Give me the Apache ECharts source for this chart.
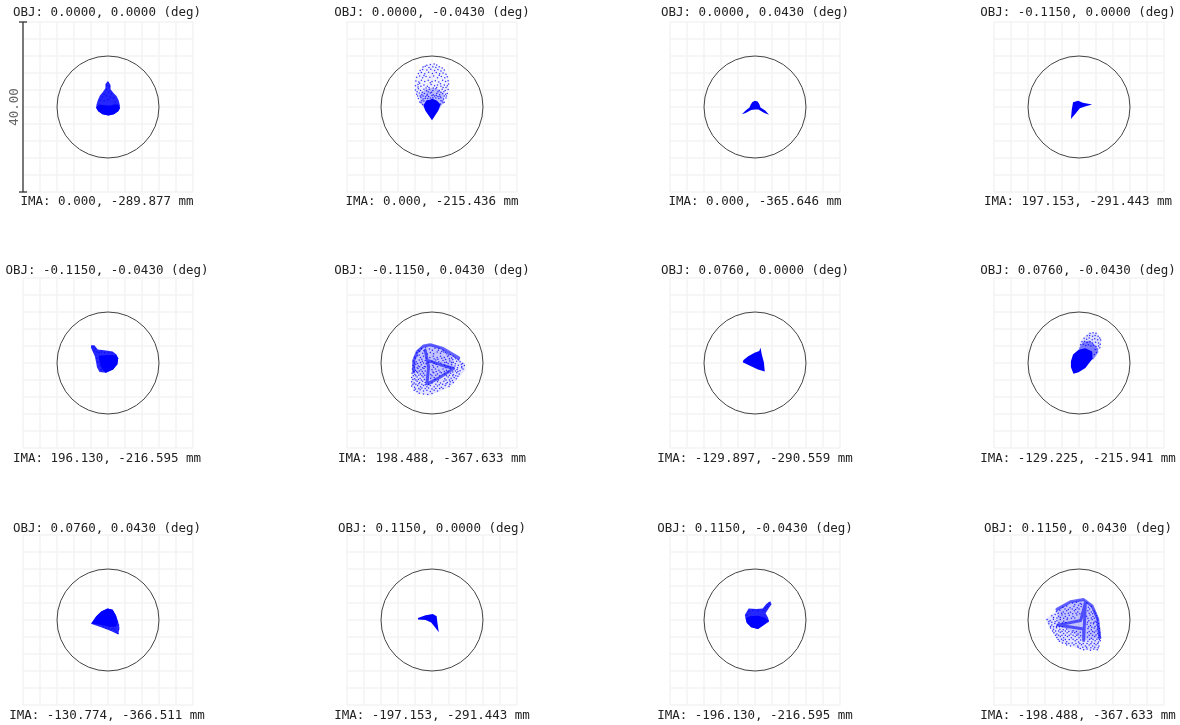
<!DOCTYPE html>
<html><head><meta charset="utf-8">
<style>html,body{margin:0;padding:0;background:#fff}#c{width:1180px;height:725px}</style>
<script src="https://cdn.jsdelivr.net/npm/echarts@6/dist/echarts.min.js"></script>
</head><body><div id="c"></div>
<script>
const objLabels=["OBJ: 0.0000, 0.0000 (deg)","OBJ: 0.0000, -0.0430 (deg)","OBJ: 0.0000, 0.0430 (deg)","OBJ: -0.1150, 0.0000 (deg)",
"OBJ: -0.1150, -0.0430 (deg)","OBJ: -0.1150, 0.0430 (deg)","OBJ: 0.0760, 0.0000 (deg)","OBJ: 0.0760, -0.0430 (deg)",
"OBJ: 0.0760, 0.0430 (deg)","OBJ: 0.1150, 0.0000 (deg)","OBJ: 0.1150, -0.0430 (deg)","OBJ: 0.1150, 0.0430 (deg)"];
const imaLabels=["IMA: 0.000, -289.877 mm","IMA: 0.000, -215.436 mm","IMA: 0.000, -365.646 mm","IMA: 197.153, -291.443 mm",
"IMA: 196.130, -216.595 mm","IMA: 198.488, -367.633 mm","IMA: -129.897, -290.559 mm","IMA: -129.225, -215.941 mm",
"IMA: -130.774, -366.511 mm","IMA: -197.153, -291.443 mm","IMA: -196.130, -216.595 mm","IMA: -198.488, -367.633 mm"];
const scaleLabel="40.00";
const airyRadius=12;
const axisMin=-20, axisMax=20, axisStep=4;

// spot outlines in µm: sparse envelope (wash), middle density (mid), dense part (core)
const wash1=[[0,6.1],[0.6,5.2],[0.6,4.2],[1.4,3.2],[2,2.6],[2.5,1.6],[2.8,0.4],[2.8,-0.3],[2.4,-1],[1.4,-1.7],[0.1,-2],[-1.3,-1.7],[-2.3,-1],[-2.8,-0.2],[-2.7,0.6],[-2.4,1.6],[-1.9,2.7],[-1.3,3.4],[-0.6,4.4],[-0.6,5.4]];
const core1=[[-2.8,-0.2],[-2.2,0.6],[-1.3,0.5],[0.4,0.3],[1.5,0.6],[2.4,0.6],[2.8,-0.3],[2.4,-1],[1.4,-1.7],[0.1,-2],[-1.3,-1.7],[-2.3,-1]];
const wash2=[[0,10.1],[-2.4,9.5],[-3.9,6.4],[-3.9,3.6],[-2.7,0.9],[0,-2.7],[2.7,0.9],[3.9,4],[3.9,6.7],[2.4,9.5]];
const mid2=[[-2.8,1.2],[-2.9,3],[-1.5,4.2],[0,4.5],[1.5,4.2],[2.9,3],[2.8,1.2],[1.7,-0.5],[-1.7,-0.5]];
const core2=[[0,-3.1],[-1.6,-0.8],[-2,0.4],[-1.3,1.6],[-0.4,1.7],[0,2],[1.2,1.5],[2,0.6],[1.5,-0.8]];
const core3=[[-3.1,-1.7],[-2.2,-0.8],[-1.3,-0.1],[-1,0.6],[-0.6,1.2],[0,1.5],[0.6,1.3],[1,0.7],[1.3,-0.1],[2.4,-0.8],[3.3,-1.8],[2.2,-1.4],[0.8,-0.6],[0,-0.6],[-0.9,-0.7],[-2.2,-1.4]];
const core4=[[-1.9,-2.8],[-1.7,-0.6],[-1.4,1.1],[-0.2,1.5],[0.9,1],[3.1,0.6],[1.6,0.2],[0.2,-0.3],[-0.8,-1.5]];
const wash5=[[-4,4.2],[-3.2,4.2],[-2.4,3.2],[-0.9,3],[1.1,2.7],[2,2],[2.4,1.1],[2.2,-0.3],[1.2,-1.5],[-0.5,-2.3],[-2,-2.1],[-2.6,-1],[-2.8,0.2],[-3.1,1.6],[-4,3.6]];
const core5=[[-2.2,1.7],[0.3,1.9],[1.9,1.8],[2.4,1.1],[2.2,-0.3],[1.2,-1.5],[-0.5,-2.3],[-1.4,-1.4],[-1.9,0]];
const wash6=[[-0.8,4.5],[-2.7,3.8],[-4.2,1.8],[-4.7,-1.3],[-4.9,-5.6],[-3.5,-7.2],[-0.8,-7.6],[1.2,-7],[4.7,-5.3],[7.8,-1.7],[7.8,-0.2],[6.3,1],[3.1,3],[0.8,4.3]];
const mid6=[[-4.3,0.6],[-3.5,2.6],[-2,4],[-0.4,4.3],[2.4,3.5],[5,1.5],[5.1,-1.3],[2,-3.3],[-1,-4.9],[-2.5,-3],[-4.3,-2]];
const core7=[[1.3,3.6],[1.6,2],[2.1,0.1],[2.3,-2],[0.7,-1.5],[-1.3,-0.6],[-2.9,0.2],[-2.7,0.7],[-1.6,1.6],[-0.1,2.4],[1,2.8]];
const wash8=[[2.3,7.1],[4.2,7.1],[5.3,5.5],[5,3.5],[3.1,0.8],[-0.1,3.1],[0.3,5.1]];
const mid8=[[0,3.5],[1,5],[2.5,5.3],[4,4],[4.6,2.6],[3.4,0.8],[1,1]];
const core8=[[-1.3,-2.5],[-1.9,-1],[-1.9,0.4],[-1.4,2],[-0.1,3.1],[1.5,3.5],[3.1,2.7],[3.2,1],[2.4,0],[1.5,-1.2],[-0.1,-2.2]];
const wash9=[[-0.1,2.7],[1.1,2.4],[1.9,1],[2.4,-0.4],[2.7,-1.8],[2.4,-3.4],[0.7,-2.6],[-1.3,-1.8],[-4,-0.9],[-2.8,0.8],[-1.6,2]];
const core9=[[-0.1,2.7],[1.1,2.4],[1.9,1],[2.3,-0.6],[1.9,-1.6],[0.2,-1.6],[-1.5,-1.2],[-3.9,-0.8],[-2.8,0.8],[-1.6,2]];
const core10=[[-3.3,0.5],[-1.5,1.1],[0.2,1.4],[1.1,0.9],[1.3,-0.8],[1.6,-2.9],[0.8,-1.8],[-0.2,-0.6],[-1.5,0],[-3.3,0.1]];
const wash11=[[3.6,4.4],[3.9,3.7],[3.2,2.7],[2.5,1.6],[3.1,0.5],[3.3,-0.4],[1.9,-1.3],[0.7,-2.1],[-0.9,-1.7],[-2,-0.6],[-2.4,1.2],[-1.5,2.7],[0.3,2.6],[1.8,2.7],[2.7,3.8]];
const core11=[[-2.2,0.4],[-1.2,0.9],[0.7,1],[2.2,0.6],[3.3,-0.1],[1.9,-1.3],[0.7,-2.1],[-0.9,-1.7],[-1.9,-0.7]];
const wash12=[[1.1,4.8],[-1.3,4.3],[-4.4,2.9],[-7.9,0.2],[-6.7,-2.2],[-4.8,-5.1],[-2,-6.1],[1.1,-7.1],[4.6,-7.1],[5,-3.4],[4.4,0.2],[3.1,3.3]];
const mid12=[[-5.2,2.5],[-2,4.3],[1.1,4.8],[3.1,3.3],[4.4,0.2],[4.9,-4.2],[1.1,-4.8],[-1.5,-3],[-5,-1.2]];

// caustic ridges in µm, null breaks the line
const ridge6=[[-4.3,-2.1],[-4.3,0.6],[-3.5,2.6],[-2,4],[-0.4,4.3],[2.4,3.5],[6.3,1.2],null,[-1.6,3],[-0.8,-0.9],[-1.2,-4.9],null,[-1,0.6],[2,-0.4],[5.1,-1.3],null,[-1,-4.9],[2,-3.3],[5.1,-1.3]];
const ridge12=[[-5.2,2.5],[-2,4.3],[1.1,4.8],[3.1,3.3],[4.4,0.2],[4.9,-4.2],null,[1.5,4.1],[0.4,-0.1],[-5,-1.2],null,[-5,-1.2],[1.1,-2.1],[1.1,-4.8],null,[1.5,4.1],[1.1,-4.8]];

// individual rays read from the sparse parts of the spots, in µm
const dots1=[[0,5.7],[-0.3,5.1],[0.3,4.8],[-0.4,4.2],[0.2,3.6],[-0.9,3],[0.8,3.1],[-1.3,2.4],[-0.4,2.6],[0.5,2.3],[1.3,2.1],[-1.8,1.6],[-0.9,1.5],[0,1.7],[1.7,1.2]];
const dots2=[[-0.4,10],[0.5,10.1],[1.1,9.9],[-1.2,9.8],[-2.1,9.4],[-1.6,9.6],[-0.7,9.3],[0.2,9.5],[0.9,9.3],[1.7,9.5],[2.4,9.2],[-2.8,8.6],[-2.2,8.8],[-1.2,8.7],[-0.3,8.9],[0.6,8.6],[1.4,8.8],[2.1,8.5],[2.9,8.7],[-3.2,7.9],[-2.5,8.1],[-1.7,7.8],[-0.8,8.2],[0.1,7.9],[1,8.1],[1.8,7.8],[2.6,8],[3.3,7.7],[-3.6,7],[-2.9,7.3],[-2.2,6.9],[-1.4,7.2],[-0.5,7],[0.4,7.3],[1.3,6.9],[2.2,7.2],[3,6.9],[3.6,7.1],[-3.8,6.1],[-3.1,5.9],[-2.5,6.3],[-1.7,6],[-0.9,6.3],[0,6],[0.8,6.2],[1.6,5.9],[2.5,6.3],[3.2,6],[3.8,6.2],[-3.9,5],[-3.3,5.3],[-2.6,4.9],[-1.9,5.2],[-1.1,4.9],[-0.2,5.3],[0.6,5],[1.3,5.2],[2.1,4.9],[2.9,5.2],[3.6,5],[3.9,5.4],[-3.9,4],[-3.2,4.3],[-2.7,3.9],[-1.9,4.2],[-1.3,3.8],[-0.6,4.2],[0.2,3.9],[0.9,4.3],[1.7,3.9],[2.4,4.2],[3.1,3.9],[3.8,4.1],[-3.6,3],[-3,3.3],[-2.4,2.9],[-1.8,3.2],[-1.1,3],[-0.4,3.3],[0.3,2.9],[1.1,3.2],[1.8,2.9],[2.5,3.2],[3.2,3],[3.6,3.2],[-3.2,2],[-2.6,2.3],[-2.1,1.9],[2.1,2.2],[2.7,1.9],[3.3,2.1],[-2.9,1.2],[-2.4,1.5],[2.4,1.4],[2.9,1.1],[-0.8,2.5],[0.6,2.6],[-1.5,2.4],[1.4,2.5],[-1.9,7.4],[1.7,7.5],[-2.9,5.6],[-0.4,5.7],[2,5.5],[-1.4,4.5],[1.1,4.6],[3.3,4.6],[-3.5,3.6],[-0.9,3.6],[2.1,3.5],[-2.6,1],[-1.9,1.4],[-1.6,2],[-1,2],[-0.4,2.1],[0.2,2.2],[0.9,2.1],[1.6,2],[2.1,1.5],[2.6,1],[-2.2,0.6],[2,0.7],[-3.4,2.6],[-2.8,2.6],[-2.1,2.6],[-1.2,2.7],[0,2.7],[1,2.7],[1.9,2.5],[2.9,2.6],[3.4,2.6],[-3.3,4.7],[-0.7,4.6],[0.3,4.5],[2.6,4.6],[-2.3,3.5],[-0.1,3.5],[1.4,3.6],[2.8,3.6]];
const dots5=[[-3.5,3.8],[-3,3.4],[-3.3,2.9],[-2.6,2.6],[-2.1,2.4],[-1.5,2.6],[-0.8,2.5],[0.2,2.4],[0.9,2.3],[-2.6,1.1],[-2.4,0.2],[-1.9,-0.6],[-1.6,-1.5]];
const dots6=[[-2.5,3.4],[-1.5,3.6],[-0.6,3.3],[0.7,3.5],[1.6,3.4],[2.6,3],[-3.6,2.4],[-2.9,2.7],[-2.2,2.3],[-0.4,2.5],[0.4,2.2],[1.2,2.6],[2,2.3],[2.8,2.6],[3.5,2.2],[4.3,2],[-4.1,1.4],[-3.4,1.7],[-2.7,1.3],[-2,1.6],[-0.5,1.3],[0.3,1.6],[1.2,1.3],[2,1.6],[2.9,1.3],[3.7,1.6],[4.6,1.2],[5.4,1.3],[6.1,0.9],[-4.4,0.5],[-3.7,0.3],[-3,0.7],[-2.3,0.4],[-1.6,0.6],[0,0.4],[0.9,0.7],[1.6,0.3],[2.6,0.6],[3.4,0.2],[4.2,0.5],[5,0.2],[5.8,0.4],[6.6,0.3],[7.2,-0.1],[-4.5,-0.6],[-3.8,-0.3],[-3.2,-0.7],[-2.5,-0.4],[-1.8,-0.8],[0.2,-0.6],[1,-0.3],[3,-0.5],[3.8,-0.8],[4.6,-0.4],[5.4,-0.7],[6.2,-0.5],[7,-0.8],[7.6,-0.6],[-4.6,-1.4],[-3.9,-1.7],[-3.3,-1.3],[-2.6,-1.6],[-1.9,-1.3],[0,-1.6],[0.8,-1.4],[1.6,-1.7],[2.6,-1.4],[3.4,-1.7],[5.9,-1.5],[6.6,-1.8],[7.3,-1.4],[-4.7,-2.4],[-4,-2.7],[-3.4,-2.3],[-2.7,-2.6],[-2,-2.4],[-0.3,-2.7],[0.4,-2.3],[1.3,-2.6],[2.2,-2.3],[3,-2.6],[4.4,-2.4],[5,-2.7],[5.8,-2.3],[6.4,-2.6],[-4.8,-3.4],[-4.1,-3.7],[-3.5,-3.3],[-2.8,-3.6],[-2.1,-3.3],[-0.3,-3.6],[0.5,-3.4],[3,-3.7],[3.8,-3.3],[4.5,-3.6],[5.2,-3.4],[5.7,-3.7],[-4.8,-4.4],[-4.2,-4.7],[-3.5,-4.3],[-2.9,-4.6],[-2.2,-4.3],[-1.6,-4.6],[0,-4.7],[1.3,-4.4],[2,-4.7],[2.8,-4.3],[3.6,-4.6],[4.3,-4.4],[5,-4.6],[-4.8,-5.4],[-4.1,-5.7],[-3.4,-5.3],[-2.7,-5.6],[-2,-5.3],[-1.2,-5.6],[-0.4,-5.3],[0.5,-5.6],[1.3,-5.4],[2.2,-5.7],[3.1,-5.3],[4,-5.5],[-4.2,-6.4],[-3.5,-6.7],[-2.8,-6.3],[-2,-6.6],[-1.2,-6.4],[-0.4,-6.7],[0.5,-6.4],[1.3,-6.6],[-3,-7.1],[-2,-7.3],[-1,-7.4],[0,-7.2],
[-3.2,3],[-1.9,2.9],[-1.1,2.1],[0.1,3],[1.5,3],[2.3,2.7],[3.2,2.5],[3.9,1.9],[5,1.6],[5.6,1],[-3.9,1.1],[-3,1.9],[-2.4,0.9],[-1.4,1.2],[-0.9,0.2],[0.5,1],[1.4,0.9],[2.3,1.1],[3.2,0.8],[4.1,1],[4.9,0.8],[6.3,0.7],[-4.1,0],[-3.4,-0.1],[-2.7,0.1],[-2,0],[-1.4,-0.2],[0.5,0],[2.1,0],[3,0.1],[3.8,-0.1],[4.6,0.1],[5.5,-0.2],[6.9,-0.3],[-4.2,-1],[-3.5,-1.1],[-2.9,-0.9],[-2.2,-1.1],[-1.5,-0.9],[0.4,-1],[1.3,-0.9],[3.3,-1.1],[4.3,-1.2],[5,-1.1],[6,-1.1],[7,-1.1],[-4.3,-2],[-3.6,-2],[-3,-1.9],[-2.3,-2],[-1.6,-1.9],[0.2,-2.1],[1,-2],[1.9,-2.1],[2.9,-2],[3.8,-2.1],[4.9,-2.1],[5.5,-1.9],[6.1,-2],[-4.4,-3],[-3.8,-3],[-3.1,-2.9],[-2.4,-3],[-1.7,-2.9],[0,-3],[0.9,-2.9],[1.8,-3],[3.4,-3],[4.1,-2.9],[4.9,-3],[5.6,-3],[6.1,-3.1],[-4.5,-3.9],[-3.8,-4],[-3.2,-3.9],[-2.5,-4],[-1.8,-3.9],[0.7,-3.9],[1.5,-4],[3.3,-4],[4.1,-4],[4.8,-4.1],[-4.5,-5],[-3.8,-5],[-3.1,-4.9],[-2.4,-5],[-1.6,-5.1],[-0.8,-5],[0.9,-5],[1.7,-5.1],[2.5,-5],[3.3,-4.9],[4.2,-5],[-3.9,-6.1],[-3.1,-6],[-2.4,-5.9],[-1.6,-6],[-0.8,-5.9],[0,-6.1],[0.9,-6],[1.8,-6],[2.6,-6]];
const dots8=[[2.6,7],[3.3,7.1],[4,7],[1.9,6.4],[2.5,6.5],[3.2,6.3],[3.8,6.5],[4.5,6.3],[4.9,5.9],[1.2,5.8],[1.8,5.6],[2.4,5.9],[3.1,5.5],[3.7,5.7],[4.4,5.5],[5.1,5.4],[0.7,5],[1.3,5.1],[1.9,4.8],[2.6,5],[3.2,4.7],[3.9,4.9],[4.6,4.7],[5,4.4],[0.4,4.3],[1,4.4],[1.6,4.1],[2.2,4.3],[2.8,4],[3.4,4.2],[4,3.9],[4.6,4],[4.9,3.6],[3.8,3.2],[4.3,3.3],[4.1,2.5],[3.6,2]];
const dots9=[[1.6,-2.3],[2,-2.8],[2.4,-3.2],[2.5,-2.2],[1.2,-2],[0.7,-2.3],[0.2,-1.9],[-0.5,-1.9],[-1.1,-1.6],[2.5,-1.2]];
const dots11=[[3.3,4],[3,3.2],[2.5,2.9],[2,2.3],[0.7,2.2],[-0.5,2.3],[-1.4,2],[-1.9,1.2]];
const dots12=[[-1.5,4],[-0.6,4.2],[0.3,3.9],[1.9,4],[-3.8,3],[-2.9,3.3],[-2.1,2.9],[-1.2,3.2],[-0.4,2.9],[0.5,3.2],[2.2,3],[2.9,3.2],[-5.3,2],[-4.5,2.3],[-3.7,1.9],[-2.9,2.2],[-2,1.8],[-1.1,2.2],[-0.3,1.9],[2.1,2.2],[2.9,1.9],[3.6,2.1],[-6.4,1],[-5.6,1.3],[-4.8,0.9],[-4,1.2],[-3.2,0.8],[-2.3,1.1],[-1.4,0.8],[-0.5,1.2],[1.8,0.9],[2.6,1.2],[3.3,0.8],[4.1,1],[-7.5,0.1],[-6.8,-0.2],[-6,0.2],[-5.2,-0.2],[-4.4,0.1],[-3.6,-0.3],[-2.8,0.1],[2.3,-0.2],[3.1,0.1],[3.8,-0.3],[4.4,0],[-7.1,-0.9],[-6.4,-1.2],[-5.7,-0.8],[-5,-1.2],[1.9,-1],[2.7,-1.3],[3.4,-0.9],[4.2,-1.2],[4.6,-0.8],[-6.7,-1.9],[-6,-2.2],[-5.3,-1.8],[-4.5,-2.2],[-3.7,-2.3],[-2.9,-2.1],[-1.4,-2.5],[2.1,-2],[2.9,-2.3],[3.6,-1.9],[4.3,-2.2],[4.8,-2],[-5.9,-3],[-5.2,-3.3],[-4.4,-2.9],[-3.6,-3.2],[-2.8,-3],[-1.9,-3.3],[-1,-3],[-0.2,-3.3],[2,-3],[2.8,-3.2],[3.6,-2.9],[4.4,-3.2],[4.9,-3],[-5.2,-4.1],[-4.4,-3.9],[-3.6,-4.2],[-2.7,-3.9],[-1.8,-4.2],[-0.9,-3.9],[0,-4.2],[2,-4],[2.9,-4.3],[3.7,-3.9],[4.5,-4.2],[5,-4],[-4.6,-5],[-3.7,-4.8],[-2.9,-5.1],[-0.9,-4.9],[-0.1,-5.2],[2.1,-5],[3,-5.2],[3.8,-4.9],[4.6,-5.2],[5,-4.9],[-2.9,-5.9],[-2,-6.1],[-1.2,-5.8],[-0.3,-6.1],[0.6,-5.8],[1.5,-6.1],[2.4,-5.9],[3.2,-6.1],[4,-5.8],[4.7,-6.1],[0.3,-6.7],[1.1,-7],[1.9,-6.8],[2.7,-7.1],[3.5,-6.8],[4.3,-7],
[-1,3.6],[-0.1,3.5],[0.6,3.7],[-3.3,2.6],[-2.5,2.5],[-1.6,2.6],[-0.8,2.5],[0,2.6],[2.5,2.6],[-4.9,1.6],[-4.1,1.6],[-3.3,1.5],[-2.5,1.6],[-1.5,1.5],[-0.7,1.6],[0.2,1.5],[2.4,1.6],[3.2,1.5],[3.9,1.6],[-6,0.6],[-5.2,0.5],[-4.4,0.6],[-3.6,0.4],[-2.7,0.5],[-1.8,0.4],[-1,0.5],[2.1,0.4],[2.9,0.5],[3.6,0.4],[4.3,0.5],[-7.1,-0.4],[-6.4,-0.5],[-5.6,-0.4],[-4.7,-0.6],[-3.9,-0.7],[-3.1,-0.6],[2,-0.5],[2.8,-0.7],[3.5,-0.6],[4.1,-0.5],[-6.7,-1.5],[-6,-1.6],[-5.3,-1.5],[-4.6,-1.6],[-3.9,-1.6],[2.3,-1.6],[3,-1.7],[3.8,-1.5],[4.5,-1.6],[-6.2,-2.6],[-5.5,-2.6],[-4.8,-2.6],[-4,-2.7],[-3.2,-2.6],[-2.4,-2.7],[-1.6,-2.9],[-0.6,-2.7],[0.3,-2.9],[2.4,-2.7],[3.2,-2.7],[4,-2.6],[4.7,-2.6],[-5.5,-3.6],[-4.8,-3.6],[-4,-3.6],[-3.2,-3.6],[-2.3,-3.6],[-1.4,-3.6],[-0.5,-3.6],[0.4,-3.7],[2.4,-3.6],[3.2,-3.6],[4,-3.5],[4.8,-3.6],[-4.9,-4.6],[-4.1,-4.5],[-3.2,-4.6],[-2.3,-4.6],[-1.4,-4.5],[-0.5,-4.6],[0.4,-4.7],[2.5,-4.6],[3.3,-4.6],[4.2,-4.5],[4.8,-4.6],[-3.9,-5.4],[-3.1,-5.5],[-2.4,-5.5],[-1.6,-5.4],[-0.7,-5.5],[0.2,-5.5],[1,-5.5],[1.9,-5.5],[2.8,-5.6],[3.6,-5.5],[4.4,-5.5],[-0.2,-6.4],[0.9,-6.4],[1.8,-6.4],[2.8,-6.5],[3.7,-6.4],[4.5,-6.5]];
// 40.00 µm scale bar on the first panel
const scaleBarEnds=[[-20,-20],[-20,20]];

const panels=[
 {wash:wash1,washA:.85,core:core1,dots:dots1},
 {wash:wash2,washA:.05,mid:mid2,midA:.22,core:core2,dots:dots2},
 {core:core3},
 {core:core4},
 {wash:wash5,washA:.85,core:core5,dots:dots5},
 {wash:wash6,washA:.1,mid:mid6,midA:.14,ridge:ridge6,dots:dots6},
 {core:core7},
 {wash:wash8,washA:.12,mid:mid8,midA:.45,core:core8,dots:dots8},
 {wash:wash9,washA:.85,core:core9,dots:dots9},
 {core:core10},
 {wash:wash11,washA:.85,core:core11,dots:dots11},
 {wash:wash12,washA:.1,mid:mid12,midA:.14,ridge:ridge12,dots:dots12}
];
const colX=[108,432,755,1079], rowY=[107,363,620], half=85;
const objTop=[6,264,522], imaTop=[195,452,709], titleX=[107,432,755,1078];
const mono='"DejaVu Sans Mono",monospace', blue='#0000ff';

function polygon(points,opacity,xi){
  return {type:'custom',coordinateSystem:'cartesian2d',xAxisIndex:xi,yAxisIndex:xi,silent:true,clip:false,
    data:[points[0]],
    renderItem:(p,api)=>({type:'polygon',shape:{points:points.map(q=>api.coord(q))},style:{fill:blue,opacity}})};
}
const grid=[],xAxis=[],yAxis=[],series=[],title=[];
const textStyle={fontFamily:mono,fontSize:12.5,fontWeight:'normal',color:'#222'};
panels.forEach((pn,i)=>{
  const cx=colX[i%4], row=Math.floor(i/4), cy=rowY[row];
  grid.push({left:cx-half,top:cy-half,width:half*2,height:half*2});
  const ax={type:'value',gridIndex:i,min:axisMin,max:axisMax,interval:axisStep,
    axisLine:{show:false},axisTick:{show:false},axisLabel:{show:false},
    splitLine:{show:true,lineStyle:{color:'#f3f3f3',width:1.5}}};
  xAxis.push({...ax});
  yAxis.push(i===0?{...ax,name:scaleLabel,nameLocation:'middle',nameRotate:90,nameGap:2,
    nameTextStyle:{fontFamily:mono,fontSize:12.5,color:'#666'}}:{...ax});
  title.push({text:objLabels[i],left:titleX[i%4],top:objTop[row],padding:0,textAlign:'center',textStyle});
  title.push({text:imaLabels[i],left:titleX[i%4],top:imaTop[row],padding:0,textAlign:'center',textStyle});
  series.push({type:'custom',coordinateSystem:'cartesian2d',xAxisIndex:i,yAxisIndex:i,silent:true,clip:false,data:[[0,0]],
    renderItem:(p,api)=>({type:'circle',shape:{cx:api.coord([0,0])[0],cy:api.coord([0,0])[1],r:api.size([airyRadius,0])[0]},style:{fill:'none',stroke:'#444',lineWidth:1}})});
  if(pn.wash) series.push(polygon(pn.wash,pn.washA,i));
  if(pn.mid) series.push(polygon(pn.mid,pn.midA,i));
  if(pn.core) series.push(polygon(pn.core,1,i));
  if(pn.ridge) series.push({type:'line',xAxisIndex:i,yAxisIndex:i,silent:true,showSymbol:false,connectNulls:false,
    data:pn.ridge.map(q=>q||['-','-']),lineStyle:{color:blue,width:3,opacity:.6,cap:'round',join:'round'}});
  if(pn.dots) series.push({type:'scatter',xAxisIndex:i,yAxisIndex:i,silent:true,symbolSize:1.5,data:pn.dots,itemStyle:{color:blue}});
});
series.push({type:'custom',coordinateSystem:'cartesian2d',xAxisIndex:0,yAxisIndex:0,silent:true,clip:false,data:[scaleBarEnds[0]],
  renderItem:(p,api)=>{
    const a=api.coord(scaleBarEnds[0]), b=api.coord(scaleBarEnds[1]), cap=4;
    const seg=(x1,y1,x2,y2)=>({type:'line',shape:{x1,y1,x2,y2},style:{stroke:'#333',lineWidth:1.3}});
    return {type:'group',children:[seg(a[0],a[1],b[0],b[1]),seg(a[0]-cap,a[1],a[0]+cap,a[1]),seg(b[0]-cap,b[1],b[0]+cap,b[1])]};
  }});

echarts.init(document.getElementById('c'),null,{renderer:'canvas'}).setOption({
  animation:false,backgroundColor:'#fff',title,grid,xAxis,yAxis,series,tooltip:{show:false},legend:{show:false}
});
</script></body></html>
